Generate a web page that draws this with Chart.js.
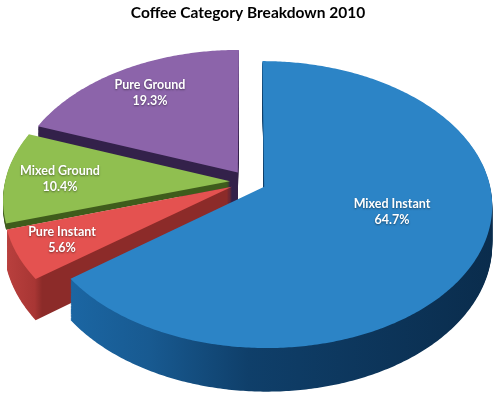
<!DOCTYPE html>
<html>
<head>
<meta charset="utf-8">
<title>Coffee Category Breakdown 2010</title>
<script src="https://cdn.jsdelivr.net/npm/chart.js@4"></script>
<style>
  html, body { margin: 0; padding: 0; background: #fff; }
  #wrap { width: 496px; height: 394px; }
</style>
</head>
<body>
<div id="wrap"><canvas id="pie" width="496" height="394"></canvas></div>
<script>
// ── Data ────────────────────────────────────────────────────
const categories = ['Mixed Instant', 'Pure Instant', 'Mixed Ground', 'Pure Ground'];
const shares = [64.7, 5.6, 10.4, 19.3];

// ── Colours ─────────────────────────────────────────────────
const topColors = ['#2c84c6', '#e45250', '#90bf50', '#8c64aa'];
const wallStops = [
  [[0.14, '#1b66a3'], [0.3, '#185a91'], [0.5, '#0f3f6a'], [1, '#0a2c4c']],
  [[0, '#bd4240'], [0.07, '#a83634'], [0.085, '#8c2b29'], [1, '#8c2b29']],
  [[0, '#3f5c1c'], [1, '#3f5c1c']],
  [[0, '#33214a'], [1, '#33214a']]
];

// ── Tilted pie layout (pixels) ──────────────────────────────
const view = { cx: 248, cy: 181.7, rx: 225, ry: 140, tilt: 0.124, explode: 0.08 };
const wallDepths = [38, 38, 6, 38];
const labelCenters = [[392, 212], [62, 240], [60, 179], [150, 93]];

// flat pie coordinates to screen, with perspective along the tilt
function project(u, v, z) {
  const s = 1 / (1 - view.tilt * v);
  return [view.cx + view.rx * u * s, view.cy + (view.ry * v + z) * s];
}

function traceSlice(ctx, arc, z) {
  const mid = (arc.startAngle + arc.endAngle) / 2;
  const ou = Math.cos(mid) * view.explode;
  const ov = Math.sin(mid) * view.explode;
  const steps = Math.ceil((arc.endAngle - arc.startAngle) * 90);
  ctx.beginPath();
  ctx.moveTo(...project(ou, ov, z));
  for (let i = 0; i <= steps; i++) {
    const a = arc.startAngle + (arc.endAngle - arc.startAngle) * i / steps;
    ctx.lineTo(...project(ou + Math.cos(a), ov + Math.sin(a), z));
  }
  ctx.closePath();
}

const tiltedPie = {
  id: 'tiltedPie',
  beforeDatasetsDraw(chart) {
    const ctx = chart.ctx;
    const arcs = chart.getDatasetMeta(0).data;
    // back to front so the nearer slices cover the walls behind them
    [3, 2, 1, 0].forEach((i) => {
      const grad = ctx.createLinearGradient(0, 0, 496, 0);
      wallStops[i].forEach(([at, col]) => grad.addColorStop(at, col));
      ctx.fillStyle = grad;
      for (let z = wallDepths[i]; z > 0; z--) {
        traceSlice(ctx, arcs[i], z);
        ctx.fill();
      }
      ctx.fillStyle = topColors[i];
      traceSlice(ctx, arcs[i], 0);
      ctx.fill();
    });
    return false;
  },
  afterDraw(chart) {
    const ctx = chart.ctx;
    ctx.save();
    ctx.font = 'bold 12.5px Lato, sans-serif';
    ctx.textAlign = 'center';
    ctx.textBaseline = 'middle';
    ctx.fillStyle = '#fff';
    ctx.shadowColor = 'rgba(0,0,0,0.45)';
    ctx.shadowBlur = 2;
    ctx.shadowOffsetY = 1;
    categories.forEach((name, i) => {
      const [x, y] = labelCenters[i];
      ctx.fillText(name, x, y - 8);
      ctx.fillText(shares[i].toFixed(1) + '%', x, y + 8);
    });
    ctx.restore();
  }
};

new Chart(document.getElementById('pie'), {
  type: 'pie',
  data: {
    labels: categories,
    datasets: [{ data: shares, backgroundColor: topColors, borderWidth: 0 }]
  },
  options: {
    responsive: false,
    animation: false,
    plugins: {
      legend: { display: false },
      tooltip: { enabled: false },
      title: {
        display: true,
        text: 'Coffee Category Breakdown 2010',
        color: '#000',
        font: { family: 'Lato', size: 15.5, weight: 'bold' },
        padding: { top: 4, bottom: 8 }
      }
    }
  },
  plugins: [tiltedPie]
});
</script>
</body>
</html>
